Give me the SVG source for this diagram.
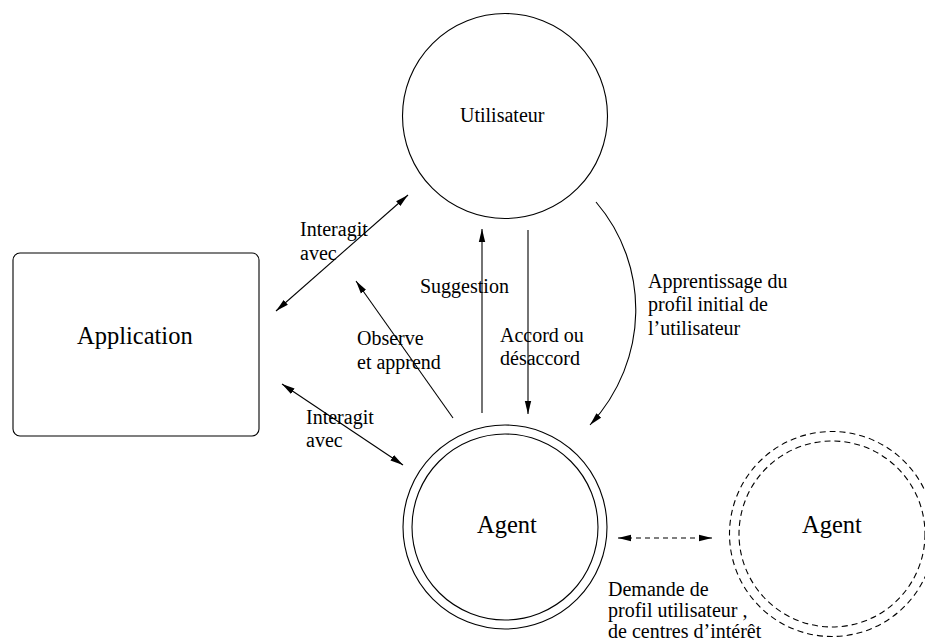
<svg xmlns="http://www.w3.org/2000/svg" width="925" height="644" viewBox="0 0 925 644">
<style>
.lbl{font-family:'Liberation Serif','DejaVu Serif','Times New Roman',Times,serif;font-size:20px;fill:#000}
.big{font-family:'Liberation Serif','DejaVu Serif','Times New Roman',Times,serif;font-size:24.5px;fill:#000}
.sh{fill:none;stroke:#000;stroke-width:1.1}
.dsh{fill:none;stroke:#000;stroke-width:1.1;stroke-dasharray:6 4}
.c{fill:none;stroke:#000;stroke-width:1.1}
</style>
<defs>
<marker id="ah" markerUnits="userSpaceOnUse" markerWidth="14" markerHeight="8" refX="13" refY="4" orient="auto-start-reverse">
<path d="M0,0.8 L13,4 L0,7.2 Z" fill="#000"/>
</marker>
</defs>
<rect width="925" height="644" fill="#fff"/>
<g id="utilisateur">
<circle class="sh" cx="505" cy="116" r="102.5"/>
<text class="lbl" x="460" y="122">Utilisateur</text>
</g>
<g id="application">
<rect class="sh" x="13" y="253" width="246" height="183" rx="7"/>
<text class="big" x="77" y="344">Application</text>
</g>
<g id="agent">
<circle class="sh" cx="505" cy="527" r="102"/>
<circle class="sh" cx="505" cy="527" r="93"/>
<text class="big" x="477" y="533">Agent</text>
</g>
<g id="agent2">
<circle class="dsh" cx="832" cy="534" r="102.5"/>
<circle class="dsh" cx="832" cy="534" r="93"/>
<text class="big" x="802" y="533">Agent</text>
</g>
<g id="connectors">
<line class="c" x1="276" y1="311" x2="408" y2="195" marker-start="url(#ah)" marker-end="url(#ah)"/>
<line class="c" x1="453" y1="418" x2="356" y2="281" marker-end="url(#ah)"/>
<line class="c" x1="482" y1="413" x2="482" y2="229" marker-end="url(#ah)"/>
<line class="c" x1="528" y1="230" x2="528" y2="414" marker-end="url(#ah)"/>
<line class="c" x1="282" y1="384" x2="403" y2="465" marker-start="url(#ah)" marker-end="url(#ah)"/>
<path class="c" d="M596,202 C650,265 650,360 590,425" marker-end="url(#ah)"/>
<line class="c" x1="618" y1="538" x2="712" y2="538" stroke-dasharray="5 4" marker-start="url(#ah)" marker-end="url(#ah)"/>
</g>
<g id="labels">
<text class="lbl" x="300" y="236">Interagit</text>
<text class="lbl" x="300" y="260">avec</text>
<text class="lbl" x="420" y="293">Suggestion</text>
<text class="lbl" x="357" y="345">Observe</text>
<text class="lbl" x="357" y="369">et apprend</text>
<text class="lbl" x="500" y="342">Accord ou</text>
<text class="lbl" x="500" y="365">désaccord</text>
<text class="lbl" x="648" y="288">Apprentissage du</text>
<text class="lbl" x="648" y="311">profil initial de</text>
<text class="lbl" x="648" y="335">l’utilisateur</text>
<text class="lbl" x="306" y="424">Interagit</text>
<text class="lbl" x="306" y="447">avec</text>
<text class="lbl" x="608" y="596">Demande de</text>
<text class="lbl" x="608" y="617">profil utilisateur ,</text>
<text class="lbl" x="608" y="638">de centres d’intérêt</text>
</g>
</svg>
